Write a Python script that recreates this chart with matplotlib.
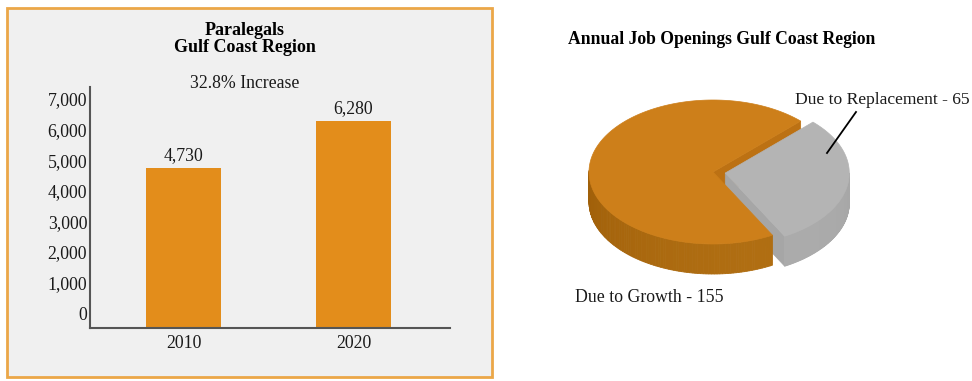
import numpy as np
import matplotlib
matplotlib.use("Agg")
import matplotlib.pyplot as plt
from matplotlib.patches import Polygon, Rectangle
import matplotlib.colors as mcolors

# ---------------- data ----------------
years = ["2010", "2020"]
employment = [4730, 6280]
bar_value_labels = ["4,730", "6,280"]
ytick_values = [0, 1000, 2000, 3000, 4000, 5000, 6000, 7000]
ytick_labels = ["0", "1,000", "2,000", "3,000", "4,000", "5,000", "6,000", "7,000"]
bar_title = "Paralegals\nGulf Coast Region"
increase_text = "32.8% Increase"

pie_title = "Annual Job Openings Gulf Coast Region"
pie_names = ["Due to Growth", "Due to Replacement"]
pie_values = [155, 65]

# ---------------- style ----------------
plt.rcParams["font.family"] = ["Liberation Serif", "DejaVu Serif"]
W, H = 972, 381
fig = plt.figure(figsize=(W / 100, H / 100), dpi=100)
fig.patch.set_facecolor("white")

BAR_COLOR = "#E38D1B"
TXT = "#1a1a1a"
FS = 12.8

# left panel background with orange border
bg = Rectangle((7 / W, 1 - 377 / H), 485 / W, 369 / H, transform=fig.transFigure,
               facecolor="#F0F0F0", edgecolor="#EBA748", linewidth=2.0, zorder=0)
fig.add_artist(bg)

# ---------------- bar chart ----------------
ax = fig.add_axes([90 / W, 1 - 328 / H, 360 / W, 241 / H])
ax.set_facecolor("none")
ylow, yhigh = -490, 7390
ax.set_ylim(ylow, yhigh)
x = np.arange(len(years))
ax.set_xlim(-0.55, 1.568)
heights = [v - ylow for v in employment]
ax.bar(x, heights, bottom=ylow, width=0.44, color=BAR_COLOR, zorder=2)
for xi, v, lab in zip(x, employment, bar_value_labels):
    ax.annotate(lab, (xi, v), xytext=(0, 3), textcoords="offset points",
                ha="center", va="bottom", fontsize=FS, color=TXT)
ax.set_yticks(ytick_values)
ax.set_yticklabels(ytick_labels, fontsize=FS, color=TXT)
ax.set_xticks(x)
ax.set_xticklabels(years, fontsize=FS, color=TXT)
ax.tick_params(axis="y", length=0, pad=2)
ax.tick_params(axis="x", length=0, pad=5)
for s in ["top", "right"]:
    ax.spines[s].set_visible(False)
for s in ["left", "bottom"]:
    ax.spines[s].set_color("#555555")
    ax.spines[s].set_linewidth(1.5)

fig.text(245 / W, 1 - 39 / H, bar_title, ha="center", va="center",
         fontsize=13, fontweight="bold", color="black", linespacing=1.05)
fig.text(245 / W, 1 - 84 / H, increase_text, ha="center", va="center",
         fontsize=FS, color=TXT)

# ---------------- 3D pie ----------------
pax = fig.add_axes([0, 0, 1, 1])
pax.set_xlim(0, W)
pax.set_ylim(H, 0)
pax.axis("off")
pax.patch.set_visible(False)

cx, cy = 713.0, 172.0
rx, ry = 124.0, 72.0
depth = 30.0
start_angle = 45.0
explode = [0.0, 0.1]
top_colors = ["#CD7F1A", "#B4B4B4"]
side_dark = ["#9A5A06", "#999999"]
side_light = ["#B06E12", "#ABABAB"]
face_colors = ["#BC7113", "#A6A6A6"]

total = float(sum(pie_values))
spans = [v / total * 360.0 for v in pie_values]
bounds = []
a = start_angle
for sp in spans:
    bounds.append((a, a + sp))
    a += sp


def pt(t_deg, ox, oy, dz=0.0):
    t = np.deg2rad(t_deg)
    return (cx + ox + rx * np.cos(t), cy + oy - ry * np.sin(t) + dz)


def shade(c1, c2, f):
    a1 = np.array(mcolors.to_rgb(c1))
    a2 = np.array(mcolors.to_rgb(c2))
    return tuple(a1 + (a2 - a1) * f)


for i, ((t0, t1), ex) in enumerate(zip(bounds, explode)):
    mid = np.deg2rad((t0 + t1) / 2)
    ox = ex * rx * np.cos(mid)
    oy = -ex * ry * np.sin(mid)
    c = (cx + ox, cy + oy)
    if i == 0:
        zf, zw, zt = 1, 5, 6
    else:
        zf, zw, zt = 2, 3, 4
    # radial face at the slice's start angle (faces the viewer)
    p = pt(t0, ox, oy)
    poly = [c, p, (p[0], p[1] + depth), (c[0], c[1] + depth)]
    pax.add_patch(Polygon(poly, closed=True, facecolor=face_colors[i],
                          edgecolor=face_colors[i], lw=0.5, zorder=zf))
    # outer wall (front half only)
    ts = np.linspace(t0, t1, 200)
    tn = np.mod(ts, 360)
    vis = (tn > 180) & (tn < 360)
    for k in range(len(ts) - 1):
        if vis[k] or vis[k + 1]:
            p1 = pt(ts[k], ox, oy)
            p2 = pt(ts[k + 1], ox, oy)
            f = (np.cos(np.deg2rad(ts[k] - 300)) + 1) / 2
            col = shade(side_dark[i], side_light[i], f)
            quad = [p1, p2, (p2[0], p2[1] + depth), (p1[0], p1[1] + depth)]
            pax.add_patch(Polygon(quad, closed=True, facecolor=col, edgecolor=col,
                                  lw=0.6, zorder=zw))
    # top surface
    arc = [pt(t, ox, oy) for t in ts]
    pax.add_patch(Polygon([c] + arc, closed=True, facecolor=top_colors[i],
                          edgecolor=top_colors[i], lw=0.5, zorder=zt))

# labels
fig.text(568 / W, 1 - 40 / H, pie_title, ha="left", va="center",
         fontsize=12.7, fontweight="bold", color="black")
fig.text(795 / W, 1 - 100 / H, f"{pie_names[1]} - {pie_values[1]}", ha="left",
         va="center", fontsize=12.6, color=TXT)
fig.text(575 / W, 1 - 297 / H, f"{pie_names[0]} - {pie_values[0]}", ha="left",
         va="center", fontsize=FS, color=TXT)
# leader line for replacement slice
pax.plot([856, 827], [112, 153], color="black", lw=1.3, zorder=10)

fig.savefig("out.png", dpi=100)
